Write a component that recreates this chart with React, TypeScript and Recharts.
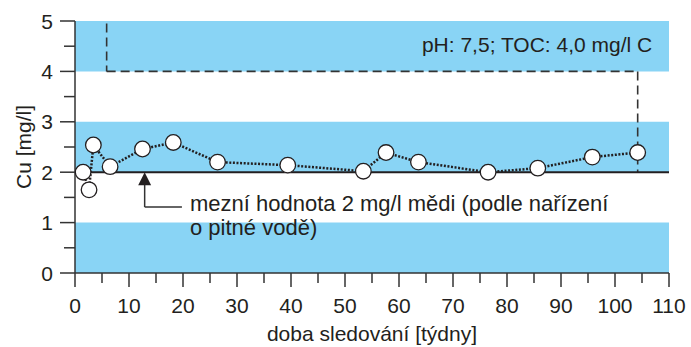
import React from 'react';
import {
  ComposedChart,
  Line,
  XAxis,
  YAxis,
  ReferenceArea,
  ReferenceLine,
  ReferenceDot,
} from 'recharts';

// weeks of monitoring vs Cu concentration (mg/l)
const weeks = [1.5, 2.6, 3.4, 6.5, 12.5, 18.2, 26.4, 39.4, 53.4, 57.6, 63.6, 76.5, 85.7, 95.8, 104.2];
const cu = [2.0, 1.65, 2.54, 2.11, 2.46, 2.59, 2.2, 2.14, 2.02, 2.39, 2.2, 2.0, 2.08, 2.3, 2.39];

const xTicks = [0, 5, 10, 15, 20, 25, 30, 35, 40, 45, 50, 55, 60, 65, 70, 75, 80, 85, 90, 95, 100, 105, 110];
const yTicks = [0, 0.5, 1, 1.5, 2, 2.5, 3, 3.5, 4, 4.5, 5];

// light-blue horizontal bands [from, to]
const bands = [
  [0, 1],
  [2, 3],
  [4, 5],
];

const limitValue = 2;
// dashed outline of the pH/TOC period
const periodStart = 5.86;
const periodEnd = 104.2;
const periodTop = 4.95;
const periodLevel = 4;

// arrow pointing at the limit line
const arrowX = 12.9;
const arrowElbowY = 1.31;
const arrowEndX = 19.8;

const noteLines = ['mezní hodnota 2 mg/l mědi (podle nařízení', 'o pitné vodě)'];
const conditionsText = 'pH: 7,5; TOC: 4,0 mg/l C';

const BLUE = '#89d4f5';
const INK = '#231f20';
const AXIS = '#333333';
const FONT = '"Liberation Sans", Arial, sans-serif';

const data = weeks.map((w, i) => ({ week: w, cu: cu[i] }));

function XTick(props: any) {
  const { x, y, payload } = props;
  const major = payload.value % 10 === 0;
  return (
    <g>
      <line x1={x} y1={y} x2={x} y2={y + (major ? 14 : 10)} stroke={AXIS} strokeWidth={1.5} />
      {major && (
        <text x={x} y={y + 40} textAnchor="middle" fontSize={21} fontFamily={FONT} fill={INK}>
          {payload.value}
        </text>
      )}
    </g>
  );
}

function YTick(props: any) {
  const { x, y, payload } = props;
  const major = payload.value % 1 === 0;
  return (
    <g>
      <line x1={x - (major ? 15 : 11)} y1={y} x2={x} y2={y} stroke={AXIS} strokeWidth={1.5} />
      {major && (
        <text x={x - 22} y={y + 7.5} textAnchor="end" fontSize={21} fontFamily={FONT} fill={INK}>
          {payload.value}
        </text>
      )}
    </g>
  );
}

function WhiteDot(props: any) {
  const { cx, cy, index } = props;
  return <circle key={index} cx={cx} cy={cy} r={7.8} fill="#ffffff" stroke={INK} strokeWidth={1.3} />;
}

function ArrowHead(props: any) {
  const { cx, cy } = props;
  return <path d={`M${cx},${cy} L${cx - 6.5},${cy + 13} L${cx + 6.5},${cy + 13} Z`} fill={INK} />;
}

export default function App() {
  return (
    <div style={{ position: 'absolute', left: 0, top: 0, width: 691, height: 347, background: '#fff', fontFamily: FONT }}>
      <ComposedChart width={691} height={347} data={data} margin={{ top: 21, right: 22, left: 0, bottom: 0 }}>
        {bands.map(([a, b]) => (
          <ReferenceArea key={a} y1={a} y2={b} x1={0} x2={110} fill={BLUE} fillOpacity={1} stroke="none" />
        ))}
        <XAxis
          dataKey="week"
          type="number"
          domain={[0, 110]}
          ticks={xTicks}
          interval={0}
          height={74}
          tickSize={0}
          tickMargin={0}
          tickLine={false}
          tick={<XTick />}
          axisLine={{ stroke: AXIS, strokeWidth: 1.5 }}
          label={{
            content: ({ viewBox }: any) => (
              <text x={viewBox.x + viewBox.width / 2} y={341} textAnchor="middle" fontSize={21} fontFamily={FONT} fill={INK}>
                doba sledování [týdny]
              </text>
            ),
          }}
        />
        <YAxis
          type="number"
          domain={[0, 5]}
          ticks={yTicks}
          interval={0}
          width={75}
          tickSize={0}
          tickMargin={0}
          tickLine={false}
          tick={<YTick />}
          axisLine={{ stroke: AXIS, strokeWidth: 1.5 }}
          label={{
            content: ({ viewBox }: any) => {
              const cx = 23;
              const cy = viewBox.y + viewBox.height / 2;
              return (
                <text x={cx} y={cy} transform={`rotate(-90 ${cx} ${cy})`} textAnchor="middle" dominantBaseline="central" fontSize={21} fontFamily={FONT} fill={INK}>
                  Cu [mg/l]
                </text>
              );
            },
          }}
        />
        <ReferenceLine
          segment={[{ x: periodStart, y: periodTop }, { x: periodStart, y: periodLevel }]}
          stroke={AXIS}
          strokeWidth={1.6}
          strokeDasharray="9 5"
        />
        <ReferenceLine
          segment={[{ x: periodStart, y: periodLevel }, { x: periodEnd, y: periodLevel }]}
          stroke={AXIS}
          strokeWidth={1.6}
          strokeDasharray="9 5"
        />
        <ReferenceLine
          segment={[{ x: periodEnd, y: periodLevel }, { x: periodEnd, y: limitValue }]}
          stroke={AXIS}
          strokeWidth={1.6}
          strokeDasharray="9 5"
        />
        <ReferenceLine y={limitValue} stroke={INK} strokeWidth={2} />
        <ReferenceLine
          segment={[{ x: arrowX, y: 1.78 }, { x: arrowX, y: arrowElbowY }]}
          stroke={AXIS}
          strokeWidth={1.5}
        />
        <ReferenceLine
          segment={[{ x: arrowX, y: arrowElbowY }, { x: arrowEndX, y: arrowElbowY }]}
          stroke={AXIS}
          strokeWidth={1.5}
        />
        <ReferenceDot x={arrowX} y={limitValue} r={0} shape={<ArrowHead />} />
        <ReferenceDot
          x={21.3}
          y={1.23}
          r={0}
          fill="none"
          stroke="none"
          label={{
            content: ({ viewBox }: any) => (
              <text x={viewBox.x} y={viewBox.y} fontSize={22} fontFamily={FONT} fill={INK}>
                {noteLines.map((t, i) => (
                  <tspan key={i} x={viewBox.x} dy={i === 0 ? 0 : 24}>
                    {t}
                  </tspan>
                ))}
              </text>
            ),
          }}
        />
        <ReferenceDot
          x={106.9}
          y={4.38}
          r={0}
          fill="none"
          stroke="none"
          label={{
            content: ({ viewBox }: any) => (
              <text x={viewBox.x} y={viewBox.y} textAnchor="end" fontSize={21} fontFamily={FONT} fill={INK}>
                {conditionsText}
              </text>
            ),
          }}
        />
        <Line
          type="linear"
          dataKey="cu"
          stroke={INK}
          strokeWidth={2.5}
          strokeDasharray="2 1.6"
          dot={<WhiteDot />}
          activeDot={false}
          isAnimationActive={false}
        />
      </ComposedChart>
    </div>
  );
}
